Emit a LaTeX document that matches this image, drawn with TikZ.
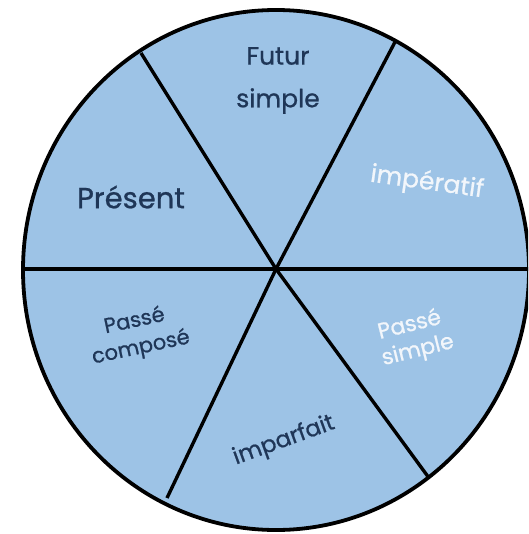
\documentclass[tikz,border=0pt]{standalone}
\usepackage{fontspec}
\setmainfont{Poppins}
\newfontfamily\lblfont{Poppins}[FakeBold=0.8]
\definecolor{wheelfill}{HTML}{9DC3E6}
\definecolor{darktext}{HTML}{1F3657}
\definecolor{lighttext}{HTML}{F2F6FB}
\newcommand{\fsz}[1]{\fontsize{#1}{#1}\selectfont}
\begin{document}
\begin{tikzpicture}[x=1pt,y=-1pt,
  spoke/.style={draw=black,line width=3.4pt},
  lbl/.style={font=\lblfont,color=darktext,align=center,inner sep=0pt},
  lblw/.style={lbl,color=lighttext}]
\useasboundingbox (0,0) rectangle (528,534);
\clip (0,0) rectangle (528,534);
\fill[white] (0,0) rectangle (528,534);
\coordinate (c) at (276,269);
\coordinate (ul) at (141,53);
\coordinate (ur) at (395,42);
\coordinate (ll) at (167,498);
\coordinate (lr) at (429,478);
\coordinate (l) at (24,269);
\coordinate (r) at (540,269);
\path[fill=wheelfill] (276,270) ellipse [x radius=253, y radius=260];
\draw[spoke] (l) -- (r);
\draw[spoke] (c) -- (ul);
\draw[spoke] (c) -- (ur);
\draw[spoke] (c) -- (ll);
\draw[spoke] (c) -- (lr);
\draw[line width=3.8pt] (276,270) ellipse [x radius=253, y radius=260];
\node[lbl,font=\lblfont\fsz{25}] (futur) at (278,56) {Futur};
\node[lbl,font=\lblfont\fsz{25}] (simple1) at (278,101) {simple};
\node[lbl,font=\lblfont\fsz{29}] (present) at (131,197) {Présent};
\node[lblw,font=\lblfont\fsz{25},rotate=-8] (imperatif) at (427,183) {impératif};
\node[lbl,font=\lblfont\fsz{21},rotate=12] (passe1) at (134,319) {Passé};
\node[lbl,font=\lblfont\fsz{21},rotate=12] (compose) at (141,348) {composé};
\node[lblw,font=\lblfont\fsz{22},rotate=14] (passe2) at (409,323) {Passé};
\node[lblw,font=\lblfont\fsz{22},rotate=14] (simple2) at (418,351) {simple};
\node[lbl,font=\lblfont\fsz{23},rotate=20] (imparfait) at (284,441) {imparfait};
\end{tikzpicture}
\end{document}
